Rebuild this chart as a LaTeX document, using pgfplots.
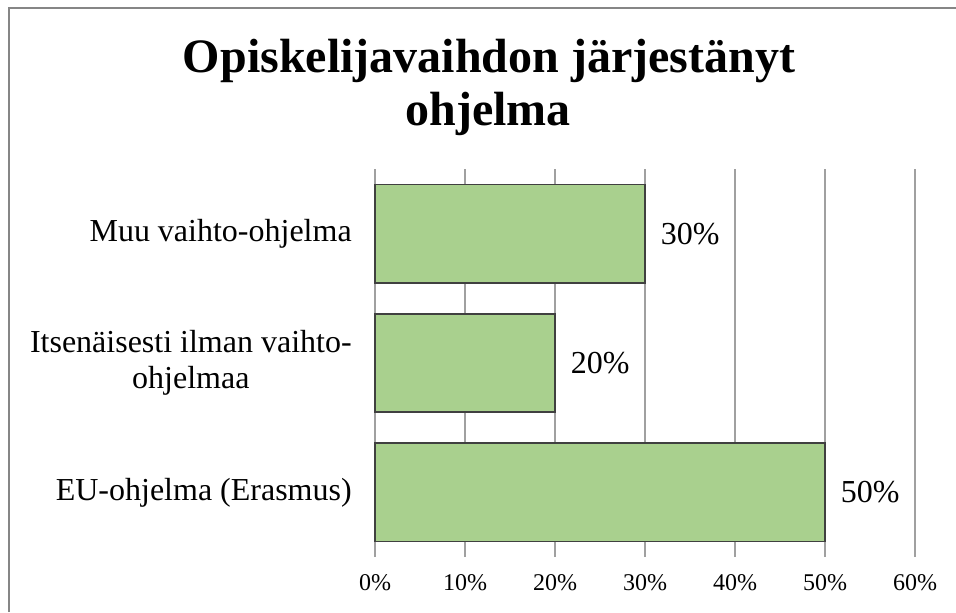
\documentclass[border=0pt]{standalone}
\usepackage{pgfplots}
\pgfplotsset{compat=1.18}
\usepackage{fontspec}
\setmainfont{Liberation Serif}
\definecolor{barfill}{RGB}{169,208,142}
\definecolor{baredge}{RGB}{64,64,64}
\definecolor{gridc}{RGB}{160,160,160}
\definecolor{framec}{RGB}{134,134,134}
\begin{document}
\begin{tikzpicture}[x=0.75pt,y=-0.75pt]
\path[use as bounding box] (0,0) rectangle (956,612);
\draw[framec, line width=1.5pt] (9,612) -- (9,8) -- (956,8);
\node[anchor=base, font=\fontsize{36}{41}\selectfont\bfseries, inner sep=0pt] at (489,72) {Opiskelijavaihdon järjestänyt};
\node[anchor=base, font=\fontsize{36}{41}\selectfont\bfseries, inner sep=0pt] at (488,125) {ohjelma};
\begin{axis}[
  at={(281.25pt,-417.75pt)}, anchor=south west,
  scale only axis, width=405pt, height=291pt,
  xbar, bar width=0.76,
  xmin=0, xmax=60, ymin=-0.5, ymax=2.5,
  clip=false,
  axis line style={draw=none},
  xtick={0,10,20,30,40,50,60},
  major tick length=0pt,
  xmajorgrids, ymajorgrids=false,
  grid style={gridc, line width=1.3pt},
  /pgf/number format/assume math mode=true,
  xticklabel={\pgfmathprintnumber{\tick}\%},
  xticklabel style={font=\fontsize{18}{20}\selectfont, inner sep=0pt, yshift=-12.75pt},
  ytick={0,1,2},
  yticklabels={EU-ohjelma (Erasmus), {Itsenäisesti ilman vaihto-\\ohjelmaa}, Muu vaihto-ohjelma},
  yticklabel style={font=\fontsize{24}{27}\selectfont, align=center, inner sep=0pt, xshift=-17.25pt},
  point meta=x,
  nodes near coords={\pgfmathprintnumber{\pgfplotspointmeta}\%},
  nodes near coords style={font=\fontsize{24}{27}\selectfont, inner sep=0pt, anchor=west, xshift=11.25pt, black},
]
\addplot[fill=barfill, draw=baredge, line width=1.2pt] coordinates {(50,0) (20,1) (30,2)};
\end{axis}
\end{tikzpicture}
\end{document}
